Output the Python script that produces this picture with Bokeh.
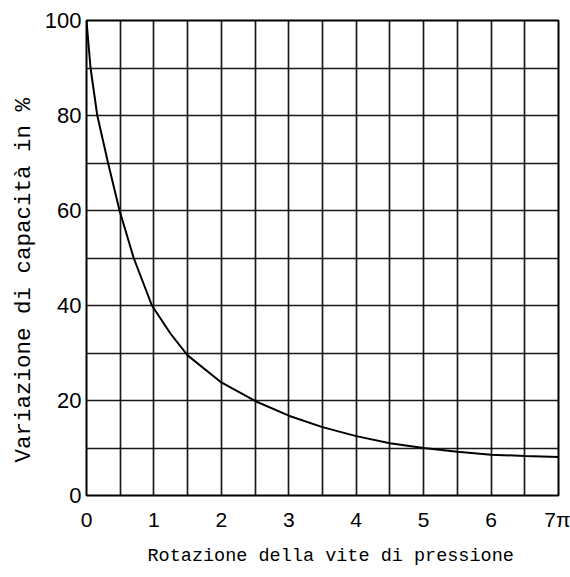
from bokeh.plotting import figure
from bokeh.models import FixedTicker, Range1d, Title
from bokeh.embed import file_html
from bokeh.resources import INLINE

# Data (rotation in multiples of pi, capacity change in %)
rotation = [0, 0.06, 0.16, 0.32, 0.49, 0.70, 0.97, 1.25, 1.5, 2.0, 2.5, 3.0, 3.5, 4.0, 4.5, 5.0, 5.5, 6.0, 6.5, 7.0]
capacity = [100, 90, 80, 70, 60, 50, 40, 34, 29.5, 23.8, 19.9, 16.8, 14.4, 12.5, 11.0, 10.0, 9.2, 8.6, 8.3, 8.1]

x_ticks = [0, 1, 2, 3, 4, 5, 6, 7]
x_tick_labels = {7: "7\u03c0"}
y_ticks = [0, 20, 40, 60, 80, 100]
x_grid = [i * 0.5 for i in range(15)]
y_grid = [i * 10 for i in range(11)]

p = figure(width=570, height=577, output_backend="svg", toolbar_location=None,
           x_range=Range1d(0, 7), y_range=Range1d(0, 100),
           min_border_top=20, min_border_right=12, min_border_left=86, min_border_bottom=80)

p.line(rotation, capacity, line_color="black", line_width=2)

p.xaxis.ticker = FixedTicker(ticks=x_ticks)
p.xaxis.major_label_overrides = x_tick_labels
p.yaxis.ticker = FixedTicker(ticks=y_ticks)
p.xgrid.ticker = FixedTicker(ticks=x_grid)
p.ygrid.ticker = FixedTicker(ticks=y_grid)

for g in (p.xgrid, p.ygrid):
    g.grid_line_color = "black"
    g.grid_line_width = 1.7
    g.grid_line_alpha = 0.9

p.outline_line_color = "black"
p.outline_line_width = 2
p.outline_line_alpha = 1

for ax in (p.xaxis, p.yaxis):
    ax.axis_line_color = None
    ax.major_tick_line_color = None
    ax.minor_tick_line_color = None
    ax.major_tick_out = 0
    ax.major_tick_in = 0
    ax.major_label_text_font = "Liberation Sans"
    ax.major_label_text_color = "black"

p.xaxis.major_label_text_font_size = "21px"
p.xaxis.major_label_standoff = 12
p.yaxis.major_label_text_font_size = "22px"
p.yaxis.major_label_standoff = 5

xt = Title(text="Rotazione della vite di pressione", align="left", offset=61,
           text_font="Liberation Mono", text_font_style="normal",
           text_font_size="18.5px", text_color="black", standoff=21)
p.add_layout(xt, "below")

yt = Title(text="Variazione di capacit\u00e0 in %", align="left", offset=33,
           text_font="Liberation Mono", text_font_style="normal",
           text_font_size="22.5px", text_color="black")
p.add_layout(yt, "left")

p.background_fill_color = "white"
p.border_fill_color = "white"

open("out.html", "w").write(file_html(p, INLINE))
